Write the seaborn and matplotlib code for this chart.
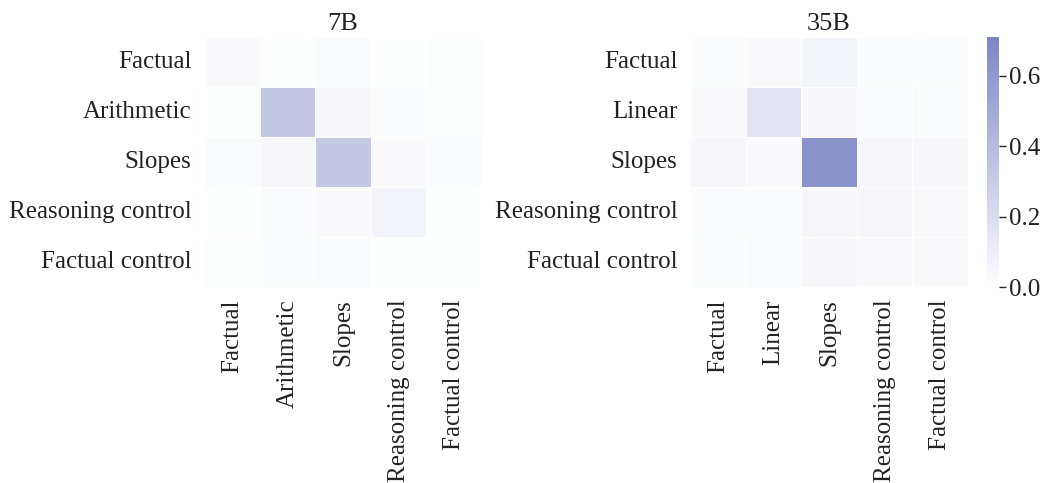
import numpy as np
import pandas as pd
import seaborn as sns
import matplotlib.pyplot as plt
from matplotlib.colors import LinearSegmentedColormap

#%% data
labels_7b = ['Factual', 'Arithmetic', 'Slopes', 'Reasoning control', 'Factual control']
labels_35b = ['Factual', 'Linear', 'Slopes', 'Reasoning control', 'Factual control']

vals_7b = [
    [0.030, 0.010, 0.025, 0.005, 0.015],
    [0.010, 0.320, 0.050, 0.020, 0.015],
    [0.025, 0.050, 0.320, 0.030, 0.020],
    [0.005, 0.020, 0.030, 0.060, 0.010],
    [0.015, 0.020, 0.025, 0.010, 0.010],
]
vals_35b = [
    [0.020, 0.030, 0.060, 0.020, 0.020],
    [0.030, 0.160, 0.040, 0.020, 0.025],
    [0.050, 0.030, 0.640, 0.050, 0.040],
    [0.020, 0.020, 0.050, 0.050, 0.030],
    [0.020, 0.025, 0.040, 0.030, 0.030],
]
vmin, vmax = 0.0, 0.71

#%% style
sns.set_theme(style='white')
plt.rcParams['font.family'] = ['Liberation Serif', 'DejaVu Serif']
plt.rcParams['font.size'] = 18

cmap = LinearSegmentedColormap.from_list('lightblue', ['#ffffff', '#7d86c6'])

fig = plt.figure(figsize=(10.48, 4.83), dpi=100)
W, H = 1048, 483
ax1 = fig.add_axes([204 / W, (H - 287) / H, 278 / W, 250 / H])
ax2 = fig.add_axes([690 / W, (H - 287) / H, 278 / W, 250 / H])
cax = fig.add_axes([987 / W, (H - 287) / H, 12 / W, 250 / H])

df7 = pd.DataFrame(vals_7b, index=labels_7b, columns=labels_7b)
df35 = pd.DataFrame(vals_35b, index=labels_35b, columns=labels_35b)

sns.heatmap(df7, ax=ax1, cmap=cmap, vmin=vmin, vmax=vmax, cbar=False,
            linewidths=0.5, linecolor='white')
sns.heatmap(df35, ax=ax2, cmap=cmap, vmin=vmin, vmax=vmax, cbar_ax=cax,
            linewidths=0.5, linecolor='white')

for ax, t in [(ax1, '7B'), (ax2, '35B')]:
    ax.set_title(t, fontsize=19, pad=5, color='#222222')
    ax.tick_params(axis='both', length=0, labelsize=18, colors='#222222', pad=9)
    ax.set_xticklabels(ax.get_xticklabels(), rotation=90)
    ax.set_yticklabels(ax.get_yticklabels(), rotation=0)

cax.set_yticks([0.0, 0.2, 0.4, 0.6])
cax.tick_params(length=5, width=1, labelsize=18, colors='#222222', pad=2)
for s in cax.spines.values():
    s.set_visible(False)

fig.savefig('out.png', dpi=100)
